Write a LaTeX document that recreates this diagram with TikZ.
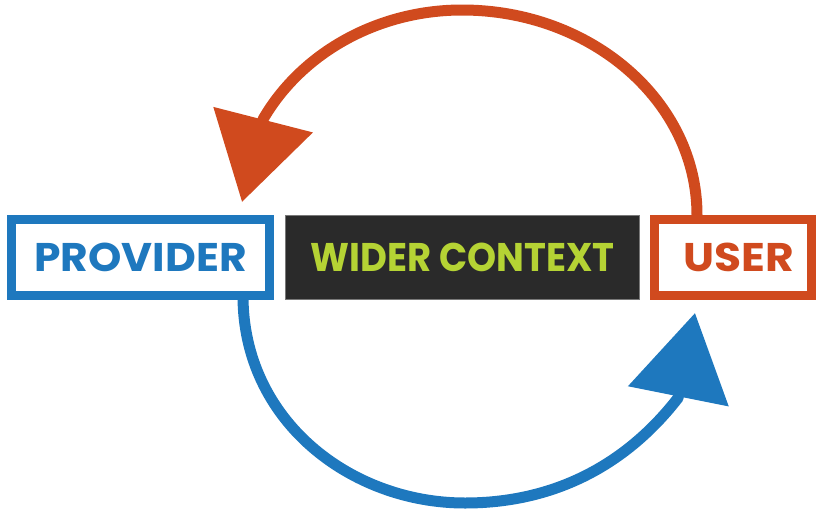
\documentclass[tikz,border=0pt]{standalone}
\usepackage{fontspec}
\setmainfont{Poppins}
\usetikzlibrary{arrows.meta}
\definecolor{pblue}{RGB}{30,120,190}
\definecolor{uorange}{RGB}{208,74,30}
\definecolor{ctxdark}{RGB}{42,42,42}
\definecolor{ctxgreen}{RGB}{181,211,52}
\definecolor{ctxedge}{RGB}{120,120,120}
\begin{document}
\begin{tikzpicture}[x=1pt,y=-1pt,
  labelfont/.style={font=\fontsize{40}{40}\selectfont\bfseries},
  framebox/.style={draw, line width=9pt, fill=white, minimum height=76pt, inner sep=0pt, labelfont},
  ctxbox/.style={draw=ctxedge, line width=1pt, fill=ctxdark, text=ctxgreen, minimum width=354pt, minimum height=84pt, inner sep=0pt, labelfont},
  conn/.style={line width=11pt, line join=round, -{Triangle[length=85pt,width=100pt]}}]
\useasboundingbox (0,0) rectangle (820,512);
\node[framebox, draw=pblue, text=pblue, minimum width=258pt] (provider) at (140.5,257.5) {\scalebox{1.06}[1]{PROVIDER}};
\node[ctxbox] (context) at (462.5,257.5) {\scalebox{0.925}[1]{WIDER CONTEXT}};
\node[framebox, draw=uorange, text=uorange, minimum width=157pt] (user) at (733,257.5) {\hspace*{12pt}\scalebox{1.1}[1]{USER}};
\draw[conn, uorange] ([xshift=-36pt,yshift=-4pt]user.north) -- ++(0,-4)
  arc[start angle=0, end angle=-90, x radius=235, y radius=205]
  arc[start angle=-90, end angle=-152, x radius=225, y radius=205]
  -- ([xshift=101.5pt,yshift=13pt]provider.north);
\draw[conn, pblue] ([xshift=102.5pt,yshift=4pt]provider.south) .. controls (243,420) and (350,503) .. (465,503) .. controls (560,503) and (630,460) .. (678,398) -- ([xshift=-38pt,yshift=-13pt]user.south);
\end{tikzpicture}
\end{document}
